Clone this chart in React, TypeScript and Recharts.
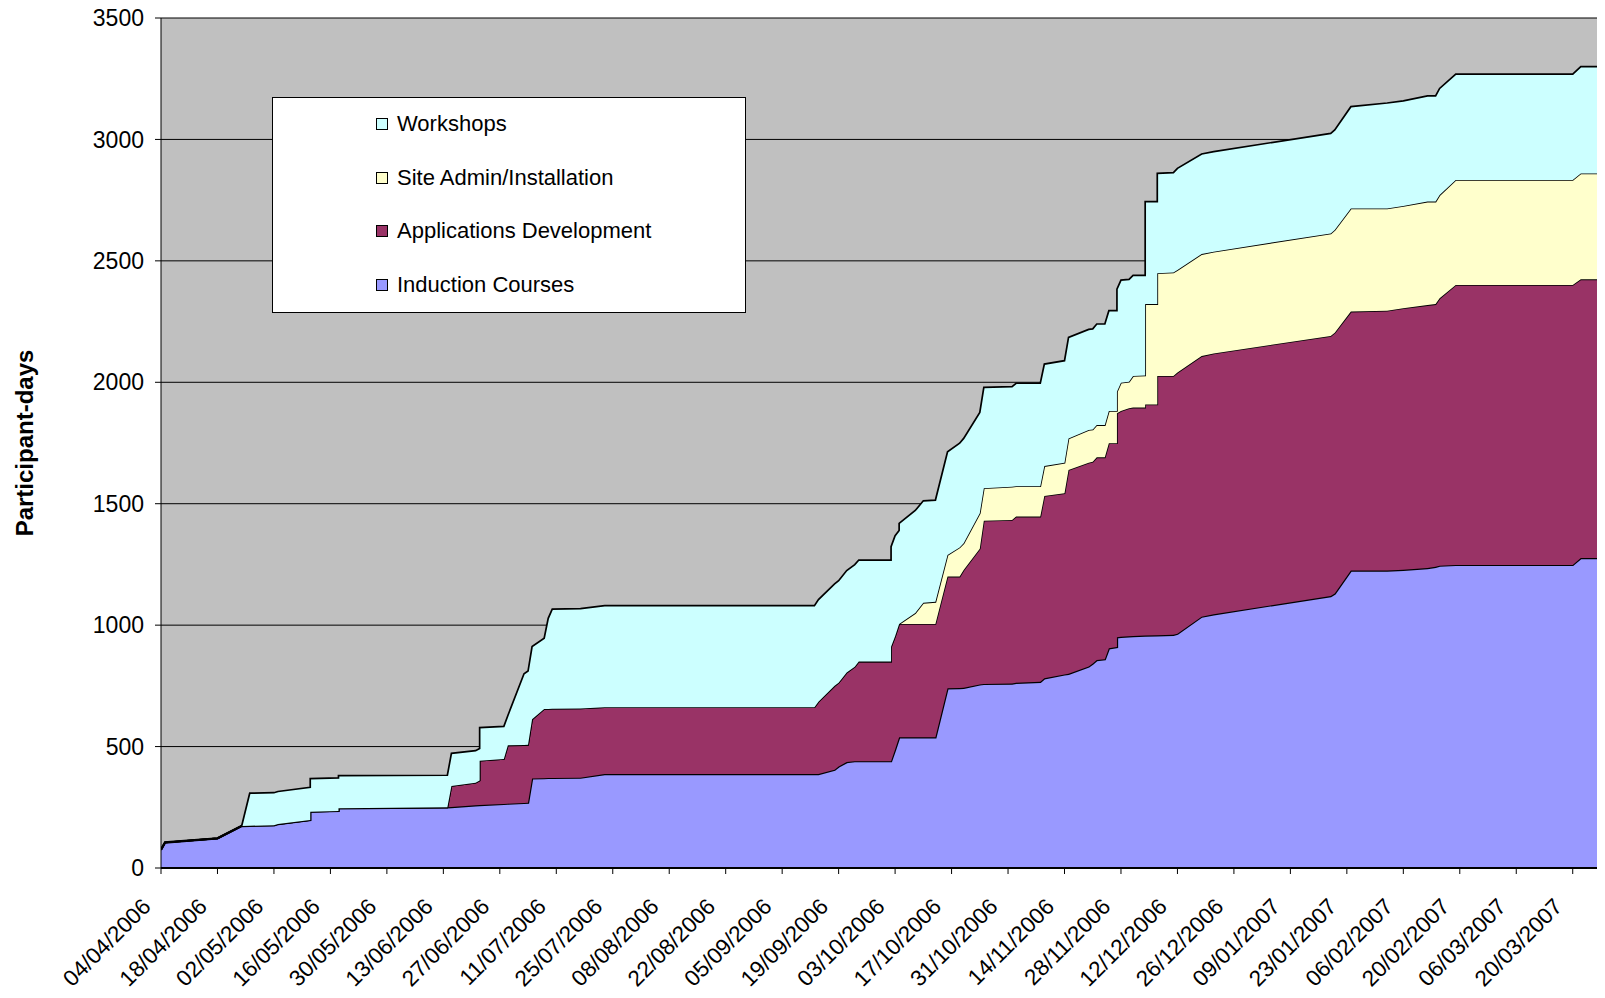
import React from "react"
import { AreaChart, Area, XAxis, YAxis, CartesianGrid, Legend } from "recharts"

// cumulative participant-days, one row per recorded event (same date twice = a vertical step)
const dates = [
  "04/04/2006", "05/04/2006", "18/04/2006", "24/04/2006", "26/04/2006", "02/05/2006", "03/05/2006",
  "11/05/2006", "11/05/2006", "18/05/2006", "18/05/2006", "14/06/2006", "15/06/2006", "21/06/2006",
  "22/06/2006", "22/06/2006", "28/06/2006", "29/06/2006", "03/07/2006", "04/07/2006", "05/07/2006",
  "08/07/2006", "09/07/2006", "10/07/2006", "17/07/2006", "23/07/2006", "13/09/2006", "14/09/2006",
  "18/09/2006", "19/09/2006", "21/09/2006", "23/09/2006", "24/09/2006", "02/10/2006", "02/10/2006",
  "03/10/2006", "04/10/2006", "04/10/2006", "08/10/2006", "10/10/2006", "13/10/2006", "16/10/2006",
  "19/10/2006", "20/10/2006", "24/10/2006", "25/10/2006", "01/11/2006", "02/11/2006", "08/11/2006",
  "09/11/2006", "14/11/2006", "15/11/2006", "20/11/2006", "21/11/2006", "22/11/2006", "24/11/2006",
  "25/11/2006", "27/11/2006", "27/11/2006", "28/11/2006", "30/11/2006", "01/12/2006", "04/12/2006",
  "04/12/2006", "07/12/2006", "07/12/2006", "11/12/2006", "12/12/2006", "18/12/2006", "21/12/2006",
  "19/01/2007", "20/01/2007", "24/01/2007", "02/02/2007", "06/02/2007", "12/02/2007", "14/02/2007",
  "15/02/2007", "19/02/2007", "20/03/2007", "22/03/2007", "28/03/2007",
]

const induction = [
  75, 105, 122, 173, 174, 176, 181,
  198, 232, 235, 246, 250, 251, 258,
  259, 259, 264, 265, 268, 269, 369,
  370, 371, 371, 372, 387, 387, 387,
  405, 418, 436, 440, 440, 440, 440,
  488, 538, 538, 538, 538, 538, 740,
  741, 742, 756, 758, 760, 763, 767,
  781, 797, 800, 830, 842, 856, 860,
  905, 910, 950, 952, 954, 955, 957,
  957, 958, 958, 960, 965, 1035, 1045,
  1120, 1130, 1225, 1225, 1228, 1235, 1240,
  1245, 1248, 1248, 1276, 1276,
]

const applications = [
  0, 0, 0, 0, 0, 0, 0,
  0, 0, 0, 0, 0, 87, 93,
  101, 183, 185, 240, 238, 238, 243,
  285, 284, 285, 285, 275, 275, 298,
  345, 345, 369, 389, 410, 410, 471,
  466, 467, 467, 467, 467, 467, 460,
  459, 485, 559, 672, 673, 684, 680,
  751, 746, 839, 839, 831, 835, 831,
  844, 839, 922, 930, 939, 941, 939,
  952, 951, 1068, 1066, 1075, 1073, 1074,
  1071, 1074, 1066, 1070, 1077, 1083, 1082,
  1101, 1153, 1153, 1148, 1148,
]

const siteAdmin = [
  0, 0, 0, 0, 0, 0, 0,
  0, 0, 0, 0, 0, 0, 0,
  0, 0, 0, 0, 0, 0, 0,
  0, 0, 0, 0, 0, 0, 0,
  0, 0, 0, 0, 0, 0, 0,
  0, 0, 0, 45, 87, 91, 89,
  120, 110, 146, 134, 137, 125, 125,
  123, 126, 130, 135, 133, 133, 133,
  133, 133, 89, 116, 109, 130, 132,
  413, 413, 423, 426, 422, 420, 419,
  422, 423, 425, 421, 421, 426, 422,
  425, 432, 432, 436, 436,
]

const workshops = [
  0, 0, 0, 0, 134, 134, 134,
  134, 136, 136, 134, 132, 134, 132,
  132, 136, 134, 123, 294, 304, 300,
  291, 373, 410, 411, 418, 418, 420,
  420, 420, 420, 420, 418, 418, 412,
  414, 385, 414, 422, 420, 419, 425,
  429, 432, 415, 415, 412, 424, 424,
  420, 420, 416, 414, 414, 416, 416,
  413, 413, 422, 423, 422, 414, 412,
  422, 422, 411, 411, 419, 412, 412,
  412, 412, 419, 434, 433, 435, 435,
  439, 436, 436, 440, 440,
]

const tickLabels = [
  "04/04/2006", "18/04/2006", "02/05/2006", "16/05/2006", "30/05/2006", "13/06/2006", "27/06/2006",
  "11/07/2006", "25/07/2006", "08/08/2006", "22/08/2006", "05/09/2006", "19/09/2006", "03/10/2006",
  "17/10/2006", "31/10/2006", "14/11/2006", "28/11/2006", "12/12/2006", "26/12/2006", "09/01/2007",
  "23/01/2007", "06/02/2007", "20/02/2007", "06/03/2007", "20/03/2007",
]

const yTicks = [0, 500, 1000, 1500, 2000, 2500, 3000, 3500]

const seriesKeys = ["induction", "applications", "siteAdmin", "workshops"]
const seriesNames = ["Induction Courses", "Applications Development", "Site Admin/Installation", "Workshops"]
const seriesColors = ["#9999FF", "#993366", "#FFFFCC", "#CCFFFF"]

const FONT = "Arial, 'Liberation Sans', Helvetica, sans-serif"

const toTime = (s: string) => {
  const [d, m, y] = s.split("/").map(Number)
  return Date.UTC(y, m - 1, d)
}

const fmt = (t: number) => {
  const dt = new Date(t)
  const dd = String(dt.getUTCDate()).padStart(2, "0")
  const mm = String(dt.getUTCMonth() + 1).padStart(2, "0")
  return `${dd}/${mm}/${dt.getUTCFullYear()}`
}

const data = dates.map((d, i) => ({
  t: toTime(d),
  induction: induction[i],
  applications: applications[i],
  siteAdmin: siteAdmin[i],
  workshops: workshops[i],
}))

const xDomain = [toTime("04/04/2006"), toTime("28/03/2007")]

function DateTick({ x, y, payload }: any) {
  const ax = x - 9
  const ay = y + 34
  return (
    <text
      x={ax}
      y={ay}
      textAnchor="end"
      transform={`rotate(-45 ${ax} ${ay})`}
      fontSize={22.5}
      fontFamily={FONT}
      fill="#000"
    >
      {fmt(payload.value)}
    </text>
  )
}

function YTitle({ viewBox }: any) {
  const cx = 24
  const cy = viewBox ? viewBox.y + viewBox.height / 2 : 443
  return (
    <text
      x={cx}
      y={cy}
      textAnchor="middle"
      dominantBaseline="central"
      transform={`rotate(-90 ${cx} ${cy})`}
      fontSize={24}
      fontWeight="bold"
      fontFamily={FONT}
      fill="#000"
    >
      Participant-days
    </text>
  )
}

function LegendBox() {
  const order = [3, 2, 1, 0]
  return (
    <div
      style={{
        width: 474,
        height: 216,
        boxSizing: "border-box",
        background: "#fff",
        border: "1px solid #000",
        position: "relative",
        fontFamily: FONT,
        fontSize: 22,
        color: "#000",
      }}
    >
      {order.map((idx, i) => (
        <div
          key={seriesKeys[idx]}
          style={{
            position: "absolute",
            left: 103,
            top: 13 + i * 53.7,
            height: 26,
            display: "flex",
            alignItems: "center",
            whiteSpace: "nowrap",
          }}
        >
          <span
            style={{
              display: "inline-block",
              width: 10,
              height: 10,
              background: seriesColors[idx],
              border: "1px solid #000",
              marginRight: 9,
            }}
          />
          <span>{seriesNames[idx]}</span>
        </div>
      ))}
    </div>
  )
}

export default function App() {
  return (
    <div style={{ margin: -8, width: 1605, height: 998, background: "#fff", overflow: "hidden" }}>
      <AreaChart
        width={1605}
        height={998}
        data={data}
        margin={{ top: 18, right: 0, bottom: 0, left: 0 }}
      >
        <CartesianGrid vertical={false} stroke="#000" fill="#C0C0C0" fillOpacity={1} />
        <XAxis
          dataKey="t"
          type="number"
          domain={xDomain}
          ticks={tickLabels.map(toTime)}
          interval={0}
          height={130}
          tickSize={6}
          tickMargin={0}
          axisLine={{ stroke: "#000", strokeWidth: 2 }}
          tickLine={{ stroke: "#000" }}
          tick={<DateTick />}
          allowDataOverflow
        />
        <YAxis
          type="number"
          domain={[0, 3500]}
          ticks={yTicks}
          interval={0}
          width={161}
          tickSize={6}
          tickMargin={11}
          axisLine={{ stroke: "#000" }}
          tickLine={{ stroke: "#000" }}
          tick={{ fontSize: 23, fill: "#000", fontFamily: FONT }}
          label={<YTitle />}
        />
        {seriesKeys.map((key, i) => (
          <Area
            key={key}
            type="linear"
            dataKey={key}
            name={seriesNames[i]}
            stackId="1"
            stroke="#000"
            strokeWidth={i === 0 ? 2.4 : 1.7}
            fill={seriesColors[i]}
            fillOpacity={1}
            dot={false}
            activeDot={false}
            isAnimationActive={false}
          />
        ))}
        <Legend
          layout="vertical"
          align="center"
          verticalAlign="middle"
          wrapperStyle={{ left: 272, top: 97, width: 474, height: 216 }}
          content={() => <LegendBox />}
        />
      </AreaChart>
    </div>
  )
}
